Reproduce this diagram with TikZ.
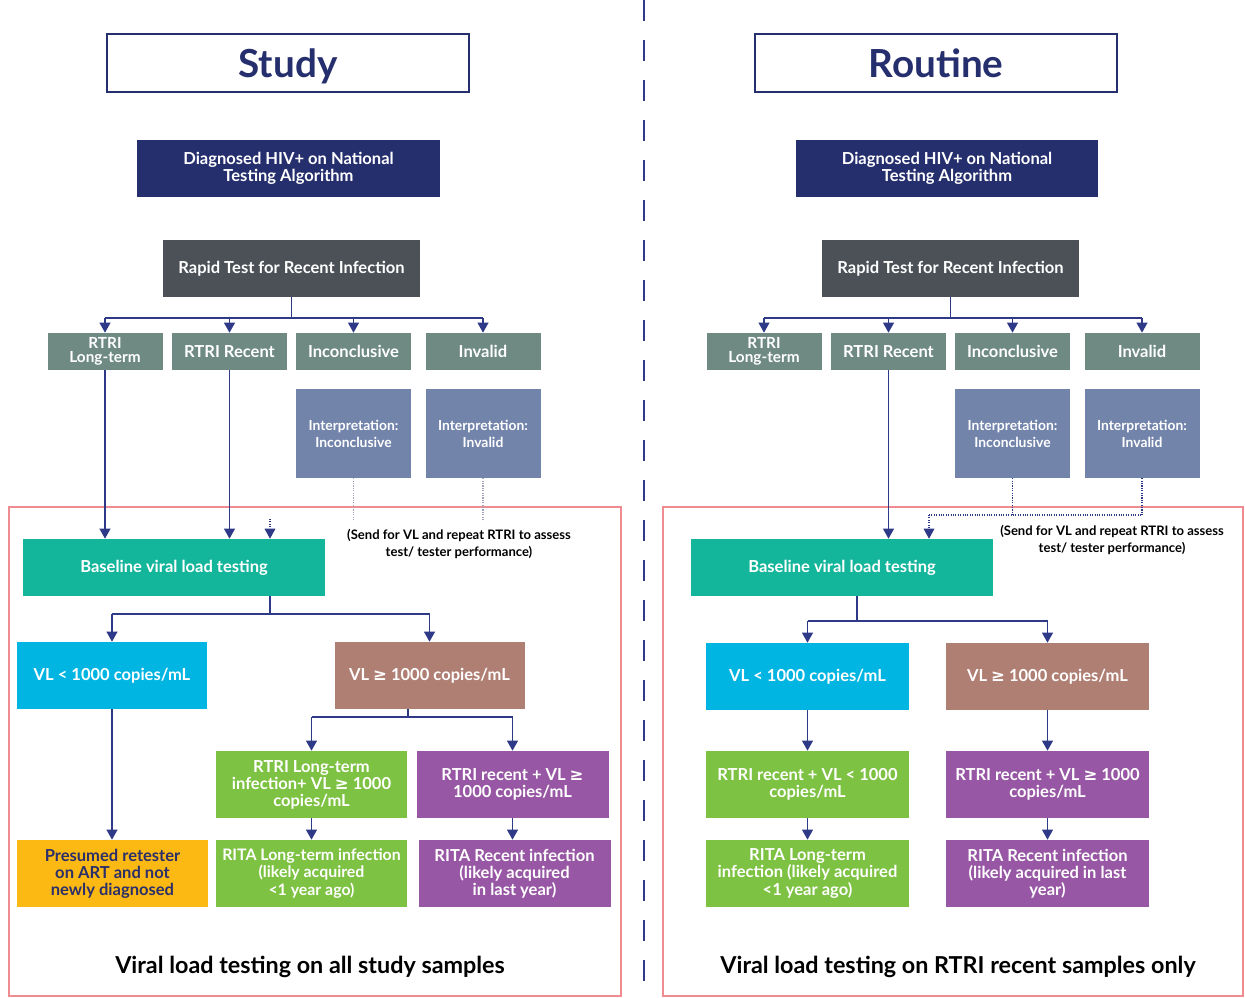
\documentclass[tikz,border=0pt]{standalone}
\usepackage{fontspec}
\setmainfont{Lato}[BoldFont={Lato Bold}]
\newfontfamily\symf{DejaVu Sans}
\newcommand\gesym{{\symf ≥}}
\usetikzlibrary{arrows.meta}
\definecolor{cNavy}{HTML}{262F6E}
\definecolor{cArrow}{HTML}{2E3A87}
\definecolor{cGray}{HTML}{4B5157}
\definecolor{cSage}{HTML}{6F8A83}
\definecolor{cSlate}{HTML}{7384AB}
\definecolor{cTeal}{HTML}{13B59B}
\definecolor{cCyan}{HTML}{00B5E2}
\definecolor{cBrown}{HTML}{B07F74}
\definecolor{cGreen}{HTML}{7DC242}
\definecolor{cPurple}{HTML}{9857A4}
\definecolor{cYellow}{HTML}{FDB913}
\definecolor{cRed}{HTML}{EF8C91}
\definecolor{cPresT}{HTML}{2B2F6A}
\definecolor{cDotG}{HTML}{A0A4B4}
\begin{document}
\begin{tikzpicture}[x=0.75pt,y=-0.75pt,
  box/.style={draw=none, inner sep=1pt, align=center, text=white,
    font=\fontsize{12.4}{12.8}\selectfont\bfseries},
  wh/.style 2 args={minimum width=#1*0.75pt, minimum height=#2*0.75pt},
  titlebox/.style={draw=cNavy, line width=1.1pt, fill=white, text=cNavy, text depth=0pt,
    font=\fontsize{29}{32}\selectfont\bfseries},
  smallbox/.style={box, font=\fontsize{10.4}{12.8}\selectfont\bfseries},
  rowbox/.style={box, fill=cSage, wh={115}{37}},
  ltbox/.style={rowbox, font=\fontsize{11.5}{11}\selectfont\bfseries},
  ln/.style={draw=cArrow, line width=1.3pt},
  arr/.style={ln, -{Triangle[length=7.5pt,width=8pt]}},
  darr/.style={draw=cArrow, line width=0.8pt, densely dotted, -{Triangle[length=7.5pt,width=8pt]}},
  dotn/.style={draw=cArrow, line width=0.8pt, densely dotted},
  dotg/.style={draw=cDotG, line width=0.8pt, densely dotted},
  redframe/.style={draw=cRed, line width=1.2pt},
  divider/.style={draw=cArrow, line width=1.6pt, dash pattern=on 16pt off 14pt},
  sendtxt/.style={align=center, inner sep=0pt, font=\fontsize{9.8}{12.8}\selectfont\bfseries},
  captxt/.style={inner sep=0pt, font=\fontsize{17.5}{19}\selectfont\bfseries}
]
\useasboundingbox (0,0) rectangle (1245,998);

% divider
\draw[divider] (644,0) -- (644,998);

% ================= LEFT: Study =================
\draw[redframe] (9,507) rectangle (621,996);
\node[titlebox, wh={362}{58}] (Ltitle) at (288,63) {Study};
\node[box, fill=cNavy, wh={303}{57}] (Ldiag) at (288.5,168.5) {Diagnosed HIV+ on National\\Testing Algorithm};
\node[box, fill=cGray, wh={257}{57}] (Lrapid) at (291.5,268.5) {Rapid Test for Recent Infection};
\node[ltbox] (Llt) at (105,351.5) {RTRI\\Long-term};
\node[rowbox] (Lrec) at (229.5,351.5) {RTRI Recent};
\node[rowbox] (Linc) at (353.5,351.5) {Inconclusive};
\node[rowbox] (Linv) at (483,351.5) {Invalid};
\node[smallbox, fill=cSlate, wh={115}{89}] (Lii) at (353.5,433.5) {Interpretation:\\Inconclusive};
\node[smallbox, fill=cSlate, wh={115}{89}] (Liv) at (483,433.5) {Interpretation:\\Invalid};

\coordinate (Lbr) at (0,318);
\draw[ln] (Lrapid.south) -- (Lrapid.south |- Lbr);
\draw[ln] (Llt.north |- Lbr) -- (Linv.north |- Lbr);
\foreach \n in {Llt,Lrec,Linc,Linv} \draw[arr] (\n.north |- Lbr) -- (\n.north);

\node[box, fill=cTeal, wh={302}{57}] (Lbase) at (174,567.5) {Baseline viral load testing};
\coordinate (Lstub) at (270,519);
\coordinate (Ldend) at (0,521);
\draw[dotg] (Lii.south) -- (Lii.south |- Ldend);
\draw[dotg] (Liv.south) -- (Liv.south |- Ldend);
\draw[darr] (Lstub) -- (Lstub |- Lbase.north);
\draw[arr] (Llt.south) -- (Llt.south |- Lbase.north);
\draw[arr] (Lrec.south) -- (Lrec.south |- Lbase.north);
\node[sendtxt] (Lsend) at (459,543.5) {(Send for VL and repeat RTRI to assess\\test/ tester performance)};

\node[box, fill=cCyan, wh={190}{67}] (Llo) at (112,675.5) {VL < 1000 copies/mL};
\node[box, fill=cBrown, wh={190}{67}] (Lhi) at (429.5,675.5) {VL \gesym\ 1000 copies/mL};
\coordinate (Lbr2) at (0,614);
\draw[ln] (Lbase.south -| Lstub) -- (Lstub |- Lbr2);
\draw[ln] (Llo.north |- Lbr2) -- (Lhi.north |- Lbr2);
\draw[arr] (Llo.north |- Lbr2) -- (Llo.north);
\draw[arr] (Lhi.north |- Lbr2) -- (Lhi.north);

\node[box, fill=cGreen, wh={191}{67}] (Lg1) at (311.5,784.5) {RTRI Long-term\\infection+ VL \gesym\ 1000\\copies/mL};
\node[box, fill=cPurple, wh={192}{67}] (Lp1) at (512.5,784.5) {RTRI recent + VL \gesym\\1000 copies/mL};
\coordinate (Lhs) at (408,0);
\coordinate (Lbr3) at (0,717);
\draw[ln] (Lhi.south -| Lhs) -- (Lhs |- Lbr3);
\draw[ln] (Lg1.north |- Lbr3) -- (Lp1.north |- Lbr3);
\draw[arr] (Lg1.north |- Lbr3) -- (Lg1.north);
\draw[arr] (Lp1.north |- Lbr3) -- (Lp1.north);

\node[box, fill=cYellow, text=cPresT, wh={191}{67}] (Lpres) at (112.5,873.5) {Presumed retester\\on ART and not\\newly diagnosed};
\node[box, fill=cGreen, wh={191}{67}, font=\fontsize{11.9}{12.8}\selectfont\bfseries] (Lg2) at (311.5,873.5) {RITA Long-term infection\\(likely acquired\\<1 year ago)};
\node[box, fill=cPurple, wh={192}{67}] (Lp2) at (514.5,873.5) {RITA Recent infection\\(likely acquired\\in last year)};
\draw[arr] (Llo.south) -- (Llo.south |- Lpres.north);
\draw[arr] (Lg1.south) -- (Lg2.north);
\draw[arr] (Lp1.south) -- (Lp1.south |- Lp2.north);
\node[captxt] (Lcap) at (310,967) {Viral load testing on all study samples};

% ================= RIGHT: Routine =================
\draw[redframe] (663,507) rectangle (1243,996);
\node[titlebox, wh={362}{58}] (Rtitle) at (936,63) {Routine};
\node[box, fill=cNavy, wh={302}{57}] (Rdiag) at (947,168.5) {Diagnosed HIV+ on National\\Testing Algorithm};
\node[box, fill=cGray, wh={257}{57}] (Rrapid) at (950.5,268.5) {Rapid Test for Recent Infection};
\node[ltbox] (Rlt) at (764,351.5) {RTRI\\Long-term};
\node[rowbox] (Rrec) at (888.5,351.5) {RTRI Recent};
\node[rowbox] (Rinc) at (1012.5,351.5) {Inconclusive};
\node[rowbox] (Rinv) at (1142,351.5) {Invalid};
\node[smallbox, fill=cSlate, wh={115}{89}] (Rii) at (1012.5,433.5) {Interpretation:\\Inconclusive};
\node[smallbox, fill=cSlate, wh={115}{89}] (Riv) at (1142,433.5) {Interpretation:\\Invalid};

\coordinate (Rbr) at (0,318);
\draw[ln] (Rrapid.south) -- (Rrapid.south |- Rbr);
\draw[ln] (Rlt.north |- Rbr) -- (Rinv.north |- Rbr);
\foreach \n in {Rlt,Rrec,Rinc,Rinv} \draw[arr] (\n.north |- Rbr) -- (\n.north);

\node[box, fill=cTeal, wh={302}{57}] (Rbase) at (842,567.5) {Baseline viral load testing};
\coordinate (Rdh) at (929,515);
\draw[dotn] (Rii.south) -- (Rii.south |- Rdh);
\draw[dotn] (Riv.south) -- (Riv.south |- Rdh);
\draw[dotn] (Rdh) -- (Riv.south |- Rdh);
\draw[darr] (Rdh) -- (Rdh |- Rbase.north);
\draw[arr] (Rrec.south) -- (Rrec.south |- Rbase.north);
\node[sendtxt] (Rsend) at (1112,539.5) {(Send for VL and repeat RTRI to assess\\test/ tester performance)};

\node[box, fill=cCyan, wh={203}{67}] (Rlo) at (807.5,676.5) {VL < 1000 copies/mL};
\node[box, fill=cBrown, wh={203}{67}] (Rhi) at (1047.5,676.5) {VL \gesym\ 1000 copies/mL};
\coordinate (Rbs) at (857,0);
\coordinate (Rbr2) at (0,621);
\draw[ln] (Rbase.south -| Rbs) -- (Rbs |- Rbr2);
\draw[ln] (Rlo.north |- Rbr2) -- (Rhi.north |- Rbr2);
\draw[arr] (Rlo.north |- Rbr2) -- (Rlo.north);
\draw[arr] (Rhi.north |- Rbr2) -- (Rhi.north);

\node[box, fill=cGreen, wh={203}{67}] (Rg1) at (807.5,784.5) {RTRI recent + VL < 1000\\copies/mL};
\node[box, fill=cPurple, wh={203}{67}] (Rp1) at (1047.5,784.5) {RTRI recent + VL \gesym\ 1000\\copies/mL};
\node[box, fill=cGreen, wh={203}{67}] (Rg2) at (807.5,873.5) {RITA Long-term\\infection (likely acquired\\<1 year ago)};
\node[box, fill=cPurple, wh={203}{67}] (Rp2) at (1047.5,873.5) {RITA Recent infection\\(likely acquired in last\\year)};
\draw[arr] (Rlo.south) -- (Rg1.north);
\draw[arr] (Rhi.south) -- (Rp1.north);
\draw[arr] (Rg1.south) -- (Rg2.north);
\draw[arr] (Rp1.south) -- (Rp2.north);
\node[captxt] (Rcap) at (958,967) {Viral load testing on RTRI recent samples only};
\end{tikzpicture}
\end{document}
